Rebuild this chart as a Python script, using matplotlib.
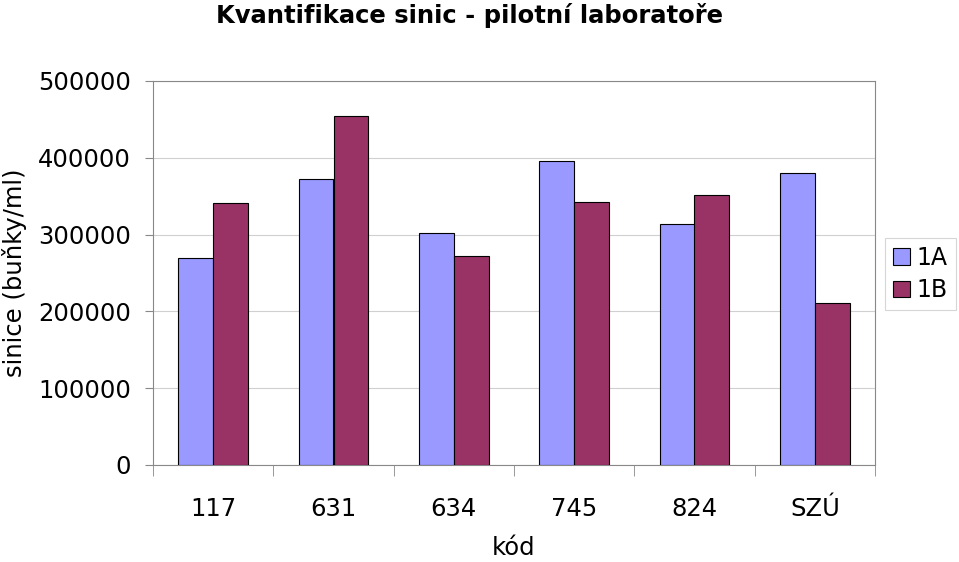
import matplotlib
matplotlib.use("Agg")
import matplotlib.pyplot as plt
import numpy as np

kody = ["117", "631", "634", "745", "824", "SZÚ"]
hodnoty_1a = [269500, 372500, 302000, 395500, 313500, 380000]
hodnoty_1b = [341000, 454500, 272000, 342500, 351500, 211000]

plt.rcParams['font.family'] = ['DejaVu Sans']

fig = plt.figure(figsize=(9.59, 5.62), dpi=100)
ax = fig.add_axes([153 / 959, 1 - 465 / 562, 722 / 959, 384 / 562])

x = np.arange(len(kody))
w = 0.29
ax.bar(x - w / 2, hodnoty_1a, w, color="#9999FF", edgecolor="black", linewidth=0.8, label="1A", zorder=3)
ax.bar(x + w / 2, hodnoty_1b, w, color="#993366", edgecolor="black", linewidth=0.8, label="1B", zorder=3)

ax.set_xlim(-0.5, len(kody) - 0.5)
ax.set_ylim(0, 500000)
ax.set_yticks(np.arange(0, 500001, 100000))
ax.yaxis.grid(True, color="#d0d0d0", linewidth=0.8, zorder=0)

ax.set_xticks(x)
ax.set_xticklabels(kody, fontsize=17.5)
ax.set_xticks(np.arange(-0.5, len(kody)), minor=True)
ax.tick_params(axis="x", which="major", length=0, pad=23)
ax.tick_params(axis="x", which="minor", length=8, color="#888888")
ax.tick_params(axis="y", labelsize=17.5, length=6, color="#888888", pad=10)

for s in ax.spines.values():
    s.set_color("#888888")
    s.set_linewidth(0.8)

ax.set_xlabel("kód", fontsize=17.5, labelpad=11)
ax.set_ylabel("sinice (buňky/ml)", fontsize=17.5, labelpad=8)

fig.text(470 / 959, 1 - 15 / 562, "Kvantifikace sinic - pilotní laboratoře",
         ha="center", va="center", fontsize=17.5, fontweight="bold")

leg = fig.legend(*ax.get_legend_handles_labels(), loc="center left",
                 bbox_to_anchor=(885 / 959, 1 - 274 / 562), fontsize=17,
                 frameon=True, fancybox=False, edgecolor="#cccccc",
                 handlelength=0.7, handleheight=0.7, handletextpad=0.3,
                 borderpad=0.35, labelspacing=0.35, borderaxespad=0)
leg.get_frame().set_linewidth(0.8)

fig.savefig("out.png", dpi=100)
